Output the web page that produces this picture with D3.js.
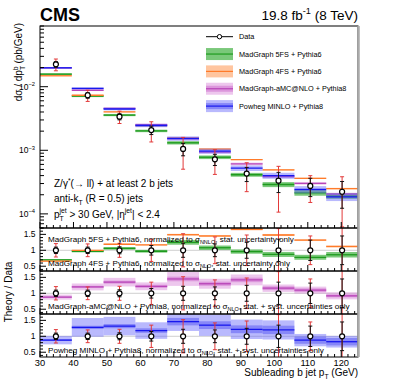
<!DOCTYPE html>
<html>
<head>
<meta charset="utf-8">
<script src="https://cdn.jsdelivr.net/npm/d3@7/dist/d3.min.js"></script>
<style>
  body { margin: 0; background: #fff; }
  svg { font-family: "Liberation Sans", Arial, Helvetica, sans-serif; }
  text { white-space: pre; }
</style>
</head>
<body>
<div id="chart"></div>
<script>
// -----------------------------
// DATA
// -----------------------------
const binEdges = [30, 39.5, 49, 58.5, 68, 77.5, 87, 96.5, 106, 115.5, 125];

// measured cross section (pb/GeV) and relative errors
const dataXsec    = [0.0225, 0.00733, 0.00338, 0.00208, 0.00105, 0.00072, 0.00043, 0.000333, 0.000275, 0.000223];
const dataStatErr = [0.10, 0.10, 0.11, 0.15, 0.22, 0.20, 0.25, 0.35, 0.32, 0.45];
const dataTotErr  = [0.21, 0.20, 0.22, 0.35, 0.52, 0.42, 0.48, 0.68, 0.45, 0.72];

// theory / data ratios and relative band widths
const ratio5FS    = [0.70, 0.97, 1.06, 0.97, 1.25, 1.08, 0.96, 0.87, 0.78, 0.86];
const err5FS      = [0.03, 0.035, 0.04, 0.045, 0.06, 0.065, 0.07, 0.09, 0.10, 0.10];
const ratio4FS    = [0.66, 1.00, 1.19, 1.17, 1.49, 1.45, 1.66, 1.48, 1.32, 1.12];
const err4FS      = [0.012, 0.012, 0.014, 0.015, 0.018, 0.02, 0.02, 0.022, 0.022, 0.025];
const ratioAMC    = [0.88, 1.20, 1.35, 1.22, 1.45, 1.30, 1.42, 1.16, 1.10, 0.92];
const statAMC     = [0.025, 0.03, 0.035, 0.04, 0.05, 0.05, 0.05, 0.05, 0.05, 0.05];
const totAMC      = [0.09, 0.09, 0.10, 0.10, 0.15, 0.12, 0.12, 0.10, 0.10, 0.12];
const ratioPowheg = [0.88, 1.28, 1.32, 1.18, 1.46, 1.35, 1.22, 1.20, 0.88, 0.83];
const statPowheg  = [0.03, 0.04, 0.05, 0.06, 0.08, 0.09, 0.10, 0.11, 0.13, 0.14];
const totPowheg   = [0.15, 0.23, 0.22, 0.22, 0.20, 0.25, 0.25, 0.25, 0.22, 0.22];

const legendLabels = ["Data", "MadGraph 5FS + Pythia6", "MadGraph 4FS + Pythia6",
                      "MadGraph-aMC@NLO + Pythia8", "Powheg MINLO + Pythia8"];

const xTickValues     = [30, 40, 50, 60, 70, 80, 90, 100, 110, 120];
const logTickValues   = [1e-4, 1e-3, 1e-2];
const ratioTickValues = [0.5, 1, 1.5];

// -----------------------------
// LAYOUT
// -----------------------------
const W = 399, H = 383;
const plotL = 40, plotR = 358;
const mainTop = 26, mainBot = 228;
const panelEdges = [228, 271, 314, 357];

const svg = d3.select("#chart").append("svg")
    .attr("width", W)
    .attr("height", H)
    .attr("viewBox", `0 0 ${W} ${H}`);

const x = d3.scaleLinear().domain([30, 125]).range([plotL, plotR]);
const y = d3.scaleLog().domain([6e-5, 0.09]).range([mainBot, mainTop]);
const yRatio = [0, 1, 2].map(k =>
    d3.scaleLinear().domain([0.35, 1.7]).range([panelEdges[k + 1], panelEdges[k]]));

const bins = d3.range(binEdges.length - 1).map(i => ({
    i: i, lo: binEdges[i], hi: binEdges[i + 1], mid: (binEdges[i] + binEdges[i + 1]) / 2
}));

const models = [
    { ratio: ratio5FS, inner: null, outer: err5FS, panel: 0,
      line: "#1e9b1e", innerFill: null, outerFill: "rgba(50,170,50,0.65)" },
    { ratio: ratio4FS, inner: null, outer: err4FS, panel: 0,
      line: "#ff7b2a", innerFill: null, outerFill: "rgba(255,150,80,0.55)" },
    { ratio: ratioAMC, inner: statAMC, outer: totAMC, panel: 1,
      line: "#b845b8", innerFill: "rgba(200,90,200,0.45)", outerFill: "rgba(215,130,215,0.45)" },
    { ratio: ratioPowheg, inner: statPowheg, outer: totPowheg, panel: 2,
      line: "#1818ee", innerFill: "rgba(60,60,240,0.4)", outerFill: "rgba(100,100,250,0.45)" }
];

// -----------------------------
// HELPERS
// -----------------------------
function richText(parent, px, py, parts, fs, anchor) {
    const t = parent.append("text")
        .attr("x", px).attr("y", py)
        .attr("font-size", fs)
        .attr("text-anchor", anchor || "start");
    let shift = 0;
    parts.forEach(p => {
        const kind = p[1] || "";
        const off = kind === "sub" ? fs * 0.3 : kind === "sup" ? -fs * 0.42 : 0;
        const ts = t.append("tspan").attr("dy", off - shift).text(p[0]);
        if (kind) ts.attr("font-size", fs * 0.68);
        if (p[2]) ts.attr("dx", p[2]);
        shift = off;
    });
    return t;
}

const defs = svg.append("defs");
function clip(id, top, bot) {
    defs.append("clipPath").attr("id", id)
        .append("rect").attr("x", plotL).attr("y", top)
        .attr("width", plotR - plotL).attr("height", bot - top);
    return svg.append("g").attr("clip-path", `url(#${id})`);
}

// main: only the inner (stat) band; ratio panels: outer + inner
function drawBands(g, m, ys, center, inMain) {
    const gm = g.append("g");
    const band = (cls, errs, fill) => {
        gm.selectAll("rect." + cls).data(bins).join("rect")
            .attr("class", cls)
            .attr("x", d => x(d.lo))
            .attr("width", d => x(d.hi) - x(d.lo))
            .attr("y", d => ys(center(d.i) * (1 + errs[d.i])))
            .attr("height", d => ys(center(d.i) * (1 - errs[d.i])) - ys(center(d.i) * (1 + errs[d.i])))
            .attr("fill", fill);
    };
    if (inMain) {
        band("outer", m.inner || m.outer, m.outerFill);
    } else {
        band("outer", m.outer, m.outerFill);
        if (m.inner) band("inner", m.inner, m.innerFill);
    }
    gm.selectAll("line.c").data(bins).join("line")
        .attr("class", "c")
        .attr("x1", d => x(d.lo)).attr("x2", d => x(d.hi))
        .attr("y1", d => ys(center(d.i))).attr("y2", d => ys(center(d.i)))
        .attr("stroke", m.line).attr("stroke-width", 1.3);
}

function drawData(g, ys, center) {
    const gd = g.append("g");
    const bar = (cls, errs, col) => {
        const hiY = d => ys(center(d.i) * (1 + errs[d.i]));
        const loY = d => ys(center(d.i) * (1 - errs[d.i]));
        gd.selectAll("line." + cls).data(bins).join("line")
            .attr("class", cls)
            .attr("x1", d => x(d.mid)).attr("x2", d => x(d.mid))
            .attr("y1", hiY).attr("y2", loY)
            .attr("stroke", col).attr("stroke-width", 1);
        [hiY, loY].forEach((fy, k) => {
            gd.selectAll("line." + cls + "cap" + k).data(bins).join("line")
                .attr("class", cls + "cap" + k)
                .attr("x1", d => x(d.mid) - 2).attr("x2", d => x(d.mid) + 2)
                .attr("y1", fy).attr("y2", fy)
                .attr("stroke", col).attr("stroke-width", 1);
        });
    };
    bar("tot", dataTotErr, "#e23a3a");
    bar("stat", dataStatErr, "#111");
    gd.selectAll("circle").data(bins).join("circle")
        .attr("cx", d => x(d.mid)).attr("cy", d => ys(center(d.i)))
        .attr("r", 2.5)
        .attr("fill", "#fff").attr("stroke", "#000").attr("stroke-width", 1.2);
}

// -----------------------------
// MAIN PANEL
// -----------------------------
const gMain = clip("clipMain", mainTop, mainBot);
models.forEach(m => drawBands(gMain, m, y, i => dataXsec[i] * m.ratio[i], true));
drawData(gMain, y, i => dataXsec[i]);

// -----------------------------
// RATIO PANELS
// -----------------------------
const gPanels = [0, 1, 2].map(k => clip("clipR" + k, panelEdges[k], panelEdges[k + 1]));
gPanels.forEach((g, k) => {
    g.append("line")
        .attr("x1", plotL).attr("x2", plotR)
        .attr("y1", yRatio[k](1)).attr("y2", yRatio[k](1))
        .attr("stroke", "#cfcfcf").attr("stroke-width", 1);
});
models.forEach(m => drawBands(gPanels[m.panel], m, yRatio[m.panel], i => m.ratio[i], false));
gPanels.forEach((g, k) => drawData(g, yRatio[k], () => 1));

// -----------------------------
// AXES / TICKS
// -----------------------------
const axes = svg.append("g").attr("stroke", "#000").attr("stroke-width", 1);
const xMinor = d3.range(30, 125, 2).filter(v => v % 10 !== 0);
[mainBot, panelEdges[2], panelEdges[3], panelEdges[1]].forEach(yb => {
    axes.selectAll(null).data(xTickValues).join("line")
        .attr("x1", d => x(d)).attr("x2", d => x(d))
        .attr("y1", yb).attr("y2", yb - 6);
    axes.selectAll(null).data(xMinor).join("line")
        .attr("x1", d => x(d)).attr("x2", d => x(d))
        .attr("y1", yb).attr("y2", yb - 3);
});

// log y ticks
const logMinor = y.ticks().filter(v => !logTickValues.some(t => Math.abs(t - v) / t < 1e-6));
axes.selectAll(null).data(logTickValues).join("line")
    .attr("x1", plotL).attr("x2", plotL + 8)
    .attr("y1", d => y(d)).attr("y2", d => y(d));
axes.selectAll(null).data(logMinor).join("line")
    .attr("x1", plotL).attr("x2", plotL + 4)
    .attr("y1", d => y(d)).attr("y2", d => y(d));

const ratioMinor = d3.range(4, 18).map(v => v / 10).filter(v => Math.abs(v * 2 - Math.round(v * 2)) > 1e-6);
yRatio.forEach(ys => {
    axes.selectAll(null).data(ratioTickValues).join("line")
        .attr("x1", plotL).attr("x2", plotL + 6)
        .attr("y1", d => ys(d)).attr("y2", d => ys(d));
    axes.selectAll(null).data(ratioMinor).join("line")
        .attr("x1", plotL).attr("x2", plotL + 3)
        .attr("y1", d => ys(d)).attr("y2", d => ys(d));
});

// frames
const frames = svg.append("g").attr("fill", "none").attr("stroke", "#000").attr("stroke-width", 1);
frames.append("rect").attr("x", plotL).attr("y", mainTop)
    .attr("width", plotR - plotL).attr("height", mainBot - mainTop);
[0, 1, 2].forEach(k => frames.append("rect")
    .attr("x", plotL).attr("y", panelEdges[k])
    .attr("width", plotR - plotL).attr("height", panelEdges[k + 1] - panelEdges[k]));
svg.append("line")
    .attr("x1", plotR + 0.5).attr("x2", plotR + 0.5)
    .attr("y1", mainTop).attr("y2", panelEdges[3])
    .attr("stroke", "#aaa").attr("stroke-width", 2.5);

// tick labels
const labels = svg.append("g").attr("fill", "#000");
logTickValues.forEach(v => {
    richText(labels, 35, y(v) + 3, [["10"], ["\u2212" + Math.round(-Math.log10(v)), "sup"]], 8.5, "end");
});
yRatio.forEach(ys => {
    labels.selectAll(null).data(ratioTickValues).join("text")
        .attr("x", 35.5).attr("y", d => ys(d) + 3)
        .attr("text-anchor", "end").attr("font-size", 8.5)
        .text(d => d);
});
labels.selectAll(null).data(xTickValues).join("text")
    .attr("x", d => x(d)).attr("y", 366)
    .attr("text-anchor", "middle").attr("font-size", 9.3)
    .text(d => d);

// axis titles
richText(labels, plotR, 376, [["Subleading b jet p"], ["T", "sub"], [" (GeV)"]], 10, "end");
richText(labels.append("g").attr("transform", "translate(22,23) rotate(-90)"), 0, 0,
    [["d\u03c3 / dp"], ["T", "sub"], ["b", "sup", -4.2], [" (pb/GeV)"]], 10, "end");
richText(labels.append("g").attr("transform", "translate(12,292) rotate(-90)"), 0, 0,
    [["Theory / Data"]], 10, "middle");

// header
labels.append("text").attr("x", 40).attr("y", 21)
    .attr("font-size", 18).attr("font-weight", "bold").text("CMS");
richText(labels, plotR, 20, [["19.8 fb"], ["-1", "sup"], [" (8 TeV)"]], 13.5, "end");

// selection text
richText(labels, 54, 187, [["Z/\u03b3"], ["*", "sup"], ["(\u2192 ll) + at least 2 b jets"]], 10);
richText(labels, 54, 202, [["anti-k"], ["T", "sub"], [" (R = 0.5) jets"]], 10);
richText(labels, 54, 217.5, [["p"], ["T", "sub"], ["jet", "sup", -4.2],
    [" > 30 GeV, |\u03b7"], ["jet", "sup"], ["| < 2.4"]], 10);

// panel captions
const capFs = 8.1;
richText(labels, 48, 241.5, [["MadGraph 5FS + Pythia6, normalized to \u03c3"], ["NNLO", "sub"], [", stat. uncertainty only"]], capFs);
richText(labels, 48, 265.5, [["MadGraph 4FS + Pythia6, normalized to \u03c3"], ["NLO", "sub"], [", stat. uncertainty only"]], capFs);
richText(labels, 48, 309, [["MadGraph-aMC@NLO + Pythia8, normalized to \u03c3"], ["NLO", "sub"], [", stat. + syst. uncertainties only"]], capFs);
richText(labels, 48, 353, [["Powheg MINLO + Pythia8, normalized to \u03c3"], ["NLO", "sub"], [", stat. + syst. uncertainties only"]], capFs);

// -----------------------------
// LEGEND
// -----------------------------
const leg = svg.append("g");
const legY = d3.range(legendLabels.length).map(k => 36.7 + k * 17.35);
const lx0 = 206, lx1 = 233;
leg.append("line").attr("x1", lx0).attr("x2", lx1)
    .attr("y1", legY[0]).attr("y2", legY[0])
    .attr("stroke", "#000").attr("stroke-width", 1);
leg.append("circle").attr("cx", (lx0 + lx1) / 2).attr("cy", legY[0]).attr("r", 2.2)
    .attr("fill", "#fff").attr("stroke", "#000").attr("stroke-width", 1);
models.forEach((m, k) => {
    const yc = legY[k + 1];
    leg.append("rect").attr("x", lx0).attr("y", yc - 6).attr("width", lx1 - lx0).attr("height", 12)
        .attr("fill", m.outerFill);
    if (m.innerFill) leg.append("rect").attr("x", lx0).attr("y", yc - 3).attr("width", lx1 - lx0).attr("height", 6)
        .attr("fill", m.innerFill);
    leg.append("line").attr("x1", lx0).attr("x2", lx1).attr("y1", yc).attr("y2", yc)
        .attr("stroke", m.line).attr("stroke-width", 1.2);
});
leg.selectAll("text").data(legendLabels).join("text")
    .attr("x", 239).attr("y", (d, k) => legY[k] + 2.6)
    .attr("font-size", 7.3)
    .text(d => d);
</script>
</body>
</html>
